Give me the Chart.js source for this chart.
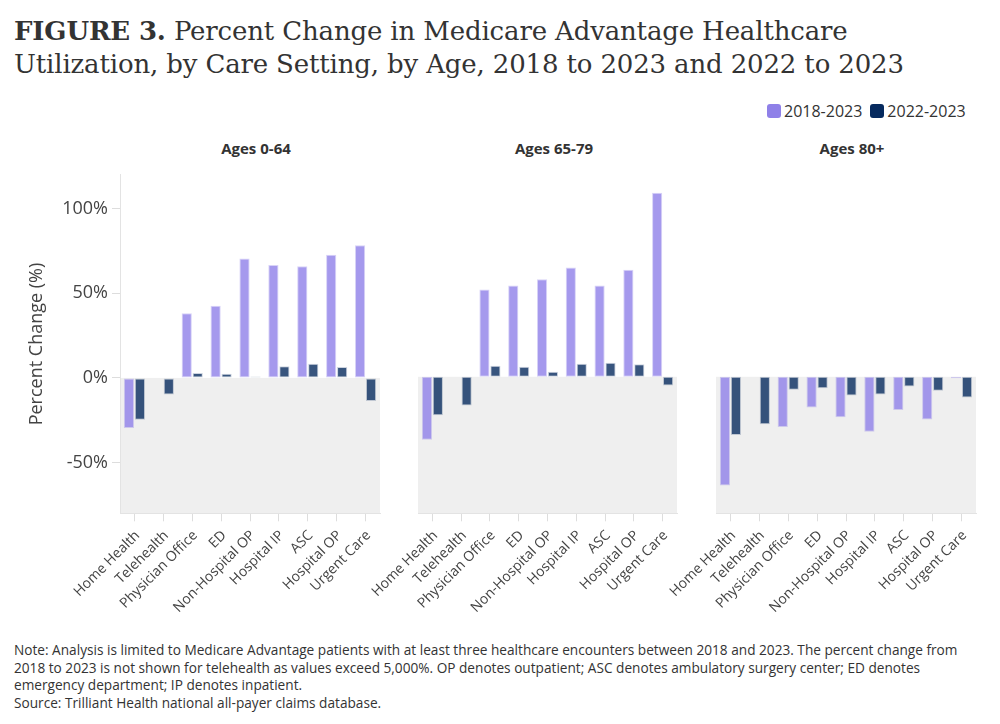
<!DOCTYPE html>
<html>
<head>
<meta charset="utf-8">
<script src="https://cdn.jsdelivr.net/npm/chart.js@4.4.1/dist/chart.umd.min.js"></script>
<style>
    body { margin: 0; background: #fff; }
    #page { position: relative; width: 1000px; height: 724px; overflow: hidden; font-family: "Open Sans", sans-serif; color: #333; }
    #title { position: absolute; left: 14px; top: 15px; font-family: "DejaVu Serif", serif; font-size: 26px; letter-spacing: -0.15px; line-height: 32.5px; color: #333; white-space: nowrap; }
    #legend { position: absolute; left: 767px; top: 101px; font-size: 16px; line-height: 20px; display: flex; }
    #legend .item { display: flex; align-items: center; margin-right: 8px; }
    #legend .box { width: 14px; height: 14px; border-radius: 3px; margin-right: 3px; }
    .panel-title { position: absolute; top: 138px; width: 200px; text-align: center; font-size: 15px; font-weight: bold; color: #333; }
    canvas.panel { position: absolute; left: 0; top: 160px; }
    #note { position: absolute; left: 14px; top: 641px; font-size: 13.65px; line-height: 17.5px; color: #333; white-space: nowrap; }
</style>
</head>
<body>
<div id="page">
    <div id="title"><b>FIGURE 3.</b> Percent Change in Medicare Advantage Healthcare<br>Utilization, by Care Setting, by Age, 2018 to 2023 and 2022 to 2023</div>
    <div id="legend">
        <div class="item"><span class="box" style="background:#8f80e8"></span>2018-2023</div>
        <div class="item"><span class="box" style="background:#062a5e"></span>2022-2023</div>
    </div>
    <div class="panel-title" style="left:156px">Ages 0-64</div>
    <div class="panel-title" style="left:454px">Ages 65-79</div>
    <div class="panel-title" style="left:752px">Ages 80+</div>
    <canvas class="panel" id="panel0" width="1000" height="470"></canvas>
    <canvas class="panel" id="panel1" width="1000" height="470"></canvas>
    <canvas class="panel" id="panel2" width="1000" height="470"></canvas>
    <div id="note">Note: Analysis is limited to Medicare Advantage patients with at least three healthcare encounters between 2018 and 2023. The percent change from<br>2018 to 2023 is not shown for telehealth as values exceed 5,000%. OP denotes outpatient; ASC denotes ambulatory surgery center; ED denotes<br>emergency department; IP denotes inpatient.<br>Source: Trilliant Health national all-payer claims database.</div>
</div>
<script>
// Data
const careSettings = ['Home Health', 'Telehealth', 'Physician Office', 'ED', 'Non-Hospital OP', 'Hospital IP', 'ASC', 'Hospital OP', 'Urgent Care'];
const seriesNames = ['2018-2023', '2022-2023'];
const ageGroups = ['Ages 0-64', 'Ages 65-79', 'Ages 80+'];

const ages0to64_2018 = [-29.6, null, 38.2, 42.7, 70.6, 66.7, 65.9, 72.7, 78.4];
const ages0to64_2022 = [-24.7, -9.8, 2.9, 2.5, 0.8, 6.9, 8.4, 6.5, -13.7];
const ages65to79_2018 = [-36.9, null, 51.2, 53.5, 57.1, 64.1, 53.5, 62.7, 107.8];
const ages65to79_2022 = [-22.5, -16.9, 6.5, 5.9, 2.9, 7.6, 8.2, 7.3, -5.1];
const ages80plus_2018 = [-63.7, null, -29.4, -18.0, -23.7, -32.2, -19.4, -25.1, -0.8];
const ages80plus_2022 = [-34.1, -27.8, -7.6, -6.7, -11.0, -10.4, -5.7, -8.2, -12.2];

const yTicks = [-50, 0, 50, 100];
const yMin = -80;
const yMax = 120;

const panelSeries = [
    [ages0to64_2018, ages0to64_2022],
    [ages65to79_2018, ages65to79_2022],
    [ages80plus_2018, ages80plus_2022]
];

// chart area placement for each panel on a full-width canvas:
// the y axis box takes the space on the left, padding the space on the right
const panelLeft = [120, 418, 716];
const panelRight = [620, 323, 24];

const fillColors = ['rgba(143, 128, 232, 0.8)', 'rgba(6, 42, 94, 0.8)'];
const edgeColors = ['rgba(143, 128, 232, 0.35)', 'rgba(6, 42, 94, 0.2)'];

// light grey band below zero
const belowZero = {
    id: 'belowZero',
    beforeDraw(chart) {
        const { ctx, chartArea: a, scales: { y } } = chart;
        const y0 = y.getPixelForValue(0);
        ctx.save();
        ctx.fillStyle = '#efefef';
        ctx.fillRect(a.left, y0, a.right - a.left, a.bottom - y0);
        ctx.restore();
    }
};

Chart.defaults.font.family = '"Open Sans", sans-serif';
Chart.defaults.color = '#444';

panelSeries.forEach((series, i) => {
    const showY = i === 0;
    new Chart(document.getElementById('panel' + i), {
        type: 'bar',
        data: {
            labels: careSettings,
            datasets: series.map((vals, k) => ({
                label: seriesNames[k],
                data: vals,
                backgroundColor: fillColors[k],
                borderColor: edgeColors[k],
                borderWidth: 1,
                borderSkipped: false,
                categoryPercentage: 0.76,
                barPercentage: 0.93
            }))
        },
        options: {
            responsive: false,
            animation: false,
            layout: { padding: { left: 0, right: panelRight[i], top: 12, bottom: 0 } },
            plugins: {
                legend: { display: false },
                tooltip: { enabled: false }
            },
            scales: {
                x: {
                    grid: { drawOnChartArea: false, offset: false, tickLength: 8, color: '#dddddd' },
                    border: { color: '#e3e3e3' },
                    ticks: { autoSkip: false, maxRotation: 45, minRotation: 45, padding: 6, labelOffset: 3, font: { size: 14 }, color: '#444' },
                    afterFit: scale => { scale.height = 116.7; }
                },
                y: {
                    min: yMin,
                    max: yMax,
                    afterBuildTicks: scale => { scale.ticks = yTicks.map(v => ({ value: v })); },
                    grid: { display: showY, drawOnChartArea: false, tickLength: 8, color: '#dddddd' },
                    border: { display: showY, color: '#e3e3e3' },
                    ticks: { display: showY, padding: 4, font: { size: 18 }, color: '#444', callback: v => v + '%' },
                    title: { display: showY, text: 'Percent Change (%)', font: { size: 18 }, color: '#444', padding: { top: 26, bottom: 0 } },
                    afterFit: scale => { scale.width = panelLeft[i]; }
                }
            }
        },
        plugins: [belowZero]
    });
});
</script>
</body>
</html>
